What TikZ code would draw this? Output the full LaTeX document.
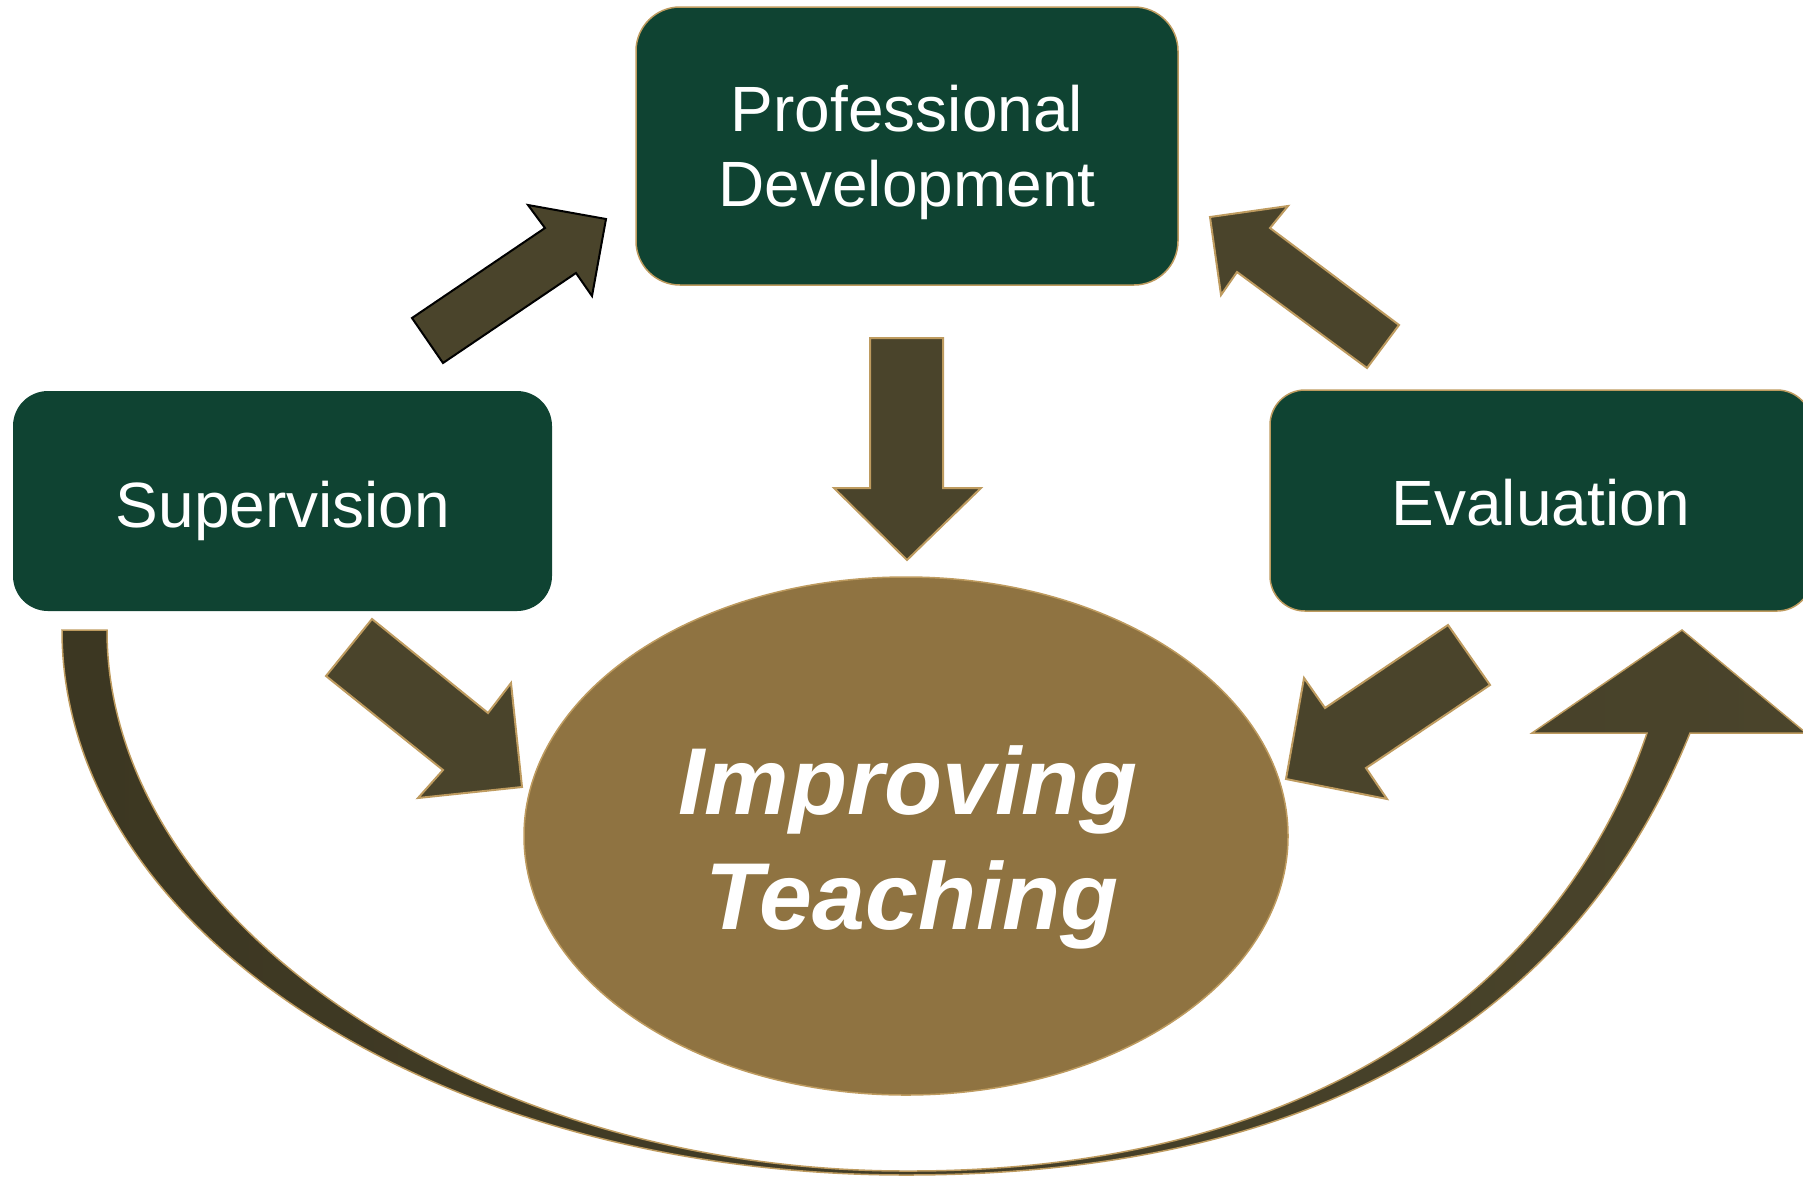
\documentclass[tikz,border=0pt]{standalone}
\usepackage{fontspec}
\setmainfont{Liberation Sans}
\usetikzlibrary{shapes.geometric}
\definecolor{boxgreen}{RGB}{15,67,50}
\definecolor{olive}{RGB}{74,68,43}
\definecolor{oliveDark}{RGB}{60,55,34}
\definecolor{bronze}{RGB}{143,115,65}
\definecolor{tanline}{RGB}{190,155,95}
\begin{document}
\begin{tikzpicture}[x=1pt,y=-1pt,
  topicbox/.style={fill=boxgreen, draw=tanline, line width=1.5pt, inner sep=0pt, rounded corners=35pt},
  blockarrow/.style={fill=olive, draw=tanline, line width=2pt, line join=miter},
  topictext/.style={text=white, inner sep=0pt, anchor=base, font=\fontsize{64}{76}\selectfont},
  centretext/.style={text=white, inner sep=0pt, anchor=base, font=\fontsize{95}{110}\selectfont\bfseries\itshape}]
\useasboundingbox (0,0) rectangle (1803,1176);
\clip (0,0) rectangle (1803,1176);

% curved return arrow from Supervision round to Evaluation
\shadedraw[left color=oliveDark, right color=olive, draw=tanline, line width=1.5pt, line join=miter]
  (62,630) .. controls (62,932) and (440,1175) .. (906,1175)
  .. controls (1410,1175) and (1606,940) .. (1690,733)
  -- (1806,733) -- (1682,630) -- (1532,733) -- (1647,733)
  .. controls (1572,955) and (1350,1172) .. (906,1171)
  .. controls (480,1171) and (107,925) .. (107,630) -- cycle;

% topic boxes
\node[topicbox, rounded corners=44pt, minimum width=542pt, minimum height=278pt] (pd) at (907,146) {};
\node[topicbox, draw=none, minimum width=539pt, minimum height=220pt] (sup) at (282.5,501) {};
\node[topicbox, minimum width=542pt, minimum height=221pt] (eva) at (1541,500.5) {};

% central ellipse
\node[ellipse, fill=bronze, draw=tanline, line width=1.5pt, inner sep=0pt,
      minimum width=764pt, minimum height=518pt] (core) at (906,836) {};

% labels
\node[topictext] (pdA) at (907,131.7) {Professional};
\node[topictext] (pdB) at (907,206.7) {Development};
\node[topictext] (supT) at (283,527) {Supervision};
\node[topictext] (evaT) at (1541,525) {Evaluation};
\node[centretext] (coreA) at (908,814) {Improving};
\node[centretext] (coreB) at (912,929) {Teaching};

% block arrows
\draw[blockarrow, draw=black] (412,318) -- (545,228) -- (528,205) -- (606,219)
  -- (592,296) -- (576,273) -- (443,363) -- cycle;
\draw[blockarrow] (1399,325) -- (1270,228) -- (1288,206) -- (1210,217)
  -- (1221,295) -- (1237,272) -- (1367,368) -- cycle;
\draw[blockarrow] (372,619) -- (488,713) -- (511,683) -- (522,787)
  -- (418,798) -- (443,770) -- (326,676) -- cycle;
\draw[blockarrow] (1448,625) -- (1490,685) -- (1366,768) -- (1387,799)
  -- (1286,779) -- (1304,678) -- (1325,708) -- cycle;
\draw[blockarrow] (870,338) -- (943,338) -- (943,488) -- (981,488)
  -- (907,560) -- (834,488) -- (870,488) -- cycle;
\end{tikzpicture}
\end{document}
